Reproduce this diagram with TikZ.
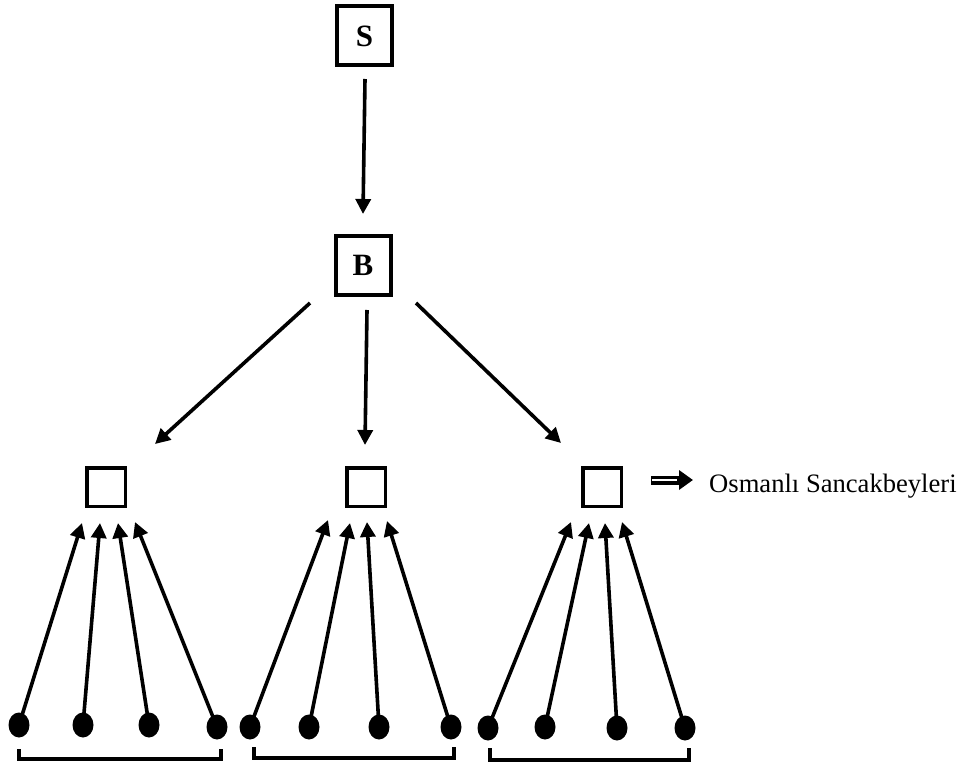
\documentclass[tikz,border=0pt]{standalone}
\usepackage{fontspec}
\setmainfont{Liberation Serif}
\usetikzlibrary{arrows.meta,shapes.geometric}
\begin{document}
\begin{tikzpicture}[x=1pt,y=-1pt,
  bigbox/.style={draw,line width=4pt,minimum width=55pt,minimum height=59pt,inner sep=0pt,font=\fontsize{31}{33}\selectfont\bfseries},
  smallbox/.style={draw,line width=3.5pt,minimum size=38.5pt,inner sep=0pt},
  dotnode/.style={ellipse,fill=black,minimum width=21pt,minimum height=25pt,inner sep=0pt},
  arr/.style={line width=3.6pt,-{Triangle[length=15pt,width=15pt]}},
  brk/.style={line width=3.5pt},
  lab/.style={font=\fontsize{26.6}{28}\selectfont,inner sep=0pt,anchor=base west}]
\useasboundingbox (0,0) rectangle (962,767);
% main nodes
\node[bigbox] (S) at (364.5,36) {S};
\node[bigbox] (B) at (363,265.5) {B};
\node[smallbox] (L) at (106,487) {};
\node[smallbox] (M) at (366,487) {};
\node[smallbox] (R) at (602,487) {};
\node[lab] (txt) at (709,492) {Osmanlı Sancakbeyleri};
% connector end points
\coordinate (s0) at (365,79);  \coordinate (s1) at (363,214);
\coordinate (bl0) at (310,303); \coordinate (bl1) at (155,444);
\coordinate (bm0) at (367,310); \coordinate (bm1) at (365,445);
\coordinate (br0) at (416,303); \coordinate (br1) at (561,443);
\draw[arr] (s0) -- (s1);
\draw[arr] (bl0) -- (bl1);
\draw[arr] (bm0) -- (bm1);
\draw[arr] (br0) -- (br1);
% implies arrow
\coordinate (ia) at (651,480); \coordinate (ib) at (693,480);
\coordinate (ic) at (652,480); \coordinate (id) at (677,480);
\draw[line width=9pt,-{Triangle[length=14pt,width=19pt]}] (ia) -- (ib);
\draw[white,line width=1.2pt] (ic) -- (id);
% dots
\foreach \n/\x/\y in {l1/19/725,l2/83/725,l3/149/725,l4/217/727,
                      m1/250/727,m2/309/727,m3/379/727,m4/451/727,
                      r1/488/728,r2/545/727,r3/617/728,r4/685/728}
  \node[dotnode] (d\n) at (\x,\y) {};
% tips
\foreach \n/\x/\y in {l1/82/523,l2/100/523,l3/118/523,l4/135/522,
                      m1/328/520,m2/350/523,m3/367/522,m4/387/521,
                      r1/571/522,r2/589/523,r3/605/523,r4/622/522}
  \coordinate (t\n) at (\x,\y);
\foreach \n in {l1,l2,l3,l4,m1,m2,m3,m4,r1,r2,r3,r4}
  \draw[arr] (d\n.center) -- (t\n);
% brackets
\draw[brk] (19,749) -- (19,759) -- (221,759) -- (221,749);
\draw[brk] (254,747) -- (254,758) -- (454,758) -- (454,747);
\draw[brk] (490,748) -- (490,760) -- (689,760) -- (689,748);
\end{tikzpicture}
\end{document}
